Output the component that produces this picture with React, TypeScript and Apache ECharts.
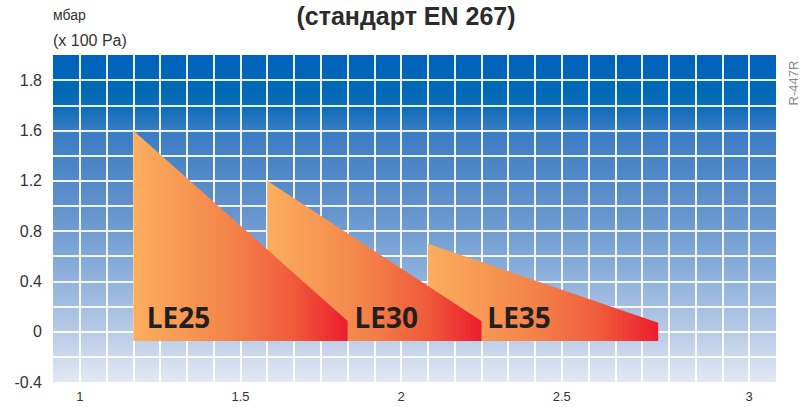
import React, { useEffect, useRef } from "react";
import * as echarts from "echarts";

// ---- data ----
// x axis is expressed in grid cells (one vertical grid line per cell)
const xTickCells = [0, 6, 12, 18, 25];
const xTickLabels = ["1", "1.5", "2", "2.5", "3"];
const yTickValues = [-0.4, 0, 0.4, 0.8, 1.2, 1.6, 2.0];
const yTickLabels = ["-0.4", "0", "0.4", "0.8", "1.2", "1.6", "1.8"];

const burnerNames = ["LE25", "LE30", "LE35"];
const startX = [2, 7, 13];
const endX = [10, 15, 21.6];
const peakP = [1.6, 1.2, 0.7];
const endP = [0.085, 0.085, 0.072];
const baseP = [-0.074, -0.074, -0.074];
const labelX = [2.5, 10.26, 15.22];
const labelY = [0.117, 0.117, 0.117];

export default function App() {
  const ref = useRef<HTMLDivElement>(null);
  useEffect(() => {
    if (!ref.current) return;
    const chart = echarts.init(ref.current, null, { renderer: "svg" });
    // draw order: last one on top
    const order = [2, 1, 0];
    const data = order.map((i) => ({
      name: burnerNames[i],
      value: [startX[i], endX[i], peakP[i], endP[i], baseP[i], labelX[i], labelY[i]],
    }));
    const fillGrad = () =>
      new echarts.graphic.LinearGradient(0, 0, 1, 0, [
        { offset: 0, color: "#fbae5e" },
        { offset: 0.45, color: "#f4844a" },
        { offset: 0.75, color: "#f05a3a" },
        { offset: 1, color: "#ec1c2e" },
      ]);
    const option: any = {
      animation: false,
      grid: {
        left: 53,
        right: 27,
        top: 55,
        bottom: 25,
        containLabel: false,
        outerBoundsMode: "none",
        show: true,
        borderWidth: 0,
        backgroundColor: new echarts.graphic.LinearGradient(0, 0, 0, 1, [
          { offset: 0, color: "#0062bc" },
          { offset: 0.1, color: "#0068b5" },
          { offset: 0.16, color: "#0e6db8" },
          { offset: 0.23, color: "#3a7cc4" },
          { offset: 0.44, color: "#5d8fcb" },
          { offset: 0.66, color: "#8aaedb" },
          { offset: 0.85, color: "#b8cbe7" },
          { offset: 1, color: "#e3e9f4" },
        ]),
      },
      xAxis: {
        type: "value",
        min: -1,
        max: 26,
        interval: 1,
        axisLine: { show: false },
        axisTick: { show: false },
        axisLabel: {
          margin: 8,
          fontSize: 13,
          color: "#333",
          fontFamily: "Liberation Sans, Arial, sans-serif",
          formatter: (v: number) => {
            const k = xTickCells.findIndex((c) => Math.abs(c - v) < 1e-6);
            return k >= 0 ? xTickLabels[k] : "";
          },
        },
        splitLine: {
          show: true,
          showMinLine: false,
          showMaxLine: false,
          lineStyle: { color: "#ffffff", width: 2, opacity: 0.9 },
        },
      },
      yAxis: {
        type: "value",
        min: -0.4,
        max: 2.2,
        interval: 0.2,
        axisLine: { show: false },
        axisTick: { show: false },
        axisLabel: {
          margin: 11,
          fontSize: 16,
          color: "#333",
          fontFamily: "Liberation Sans, Arial, sans-serif",
          formatter: (v: number) => {
            const k = yTickValues.findIndex((c) => Math.abs(c - v) < 1e-6);
            return k >= 0 ? yTickLabels[k] : "";
          },
        },
        splitLine: {
          show: true,
          showMinLine: false,
          showMaxLine: false,
          lineStyle: { color: "#ffffff", width: 2, opacity: 0.9 },
        },
      },
      series: [
        {
          type: "custom",
          data,
          clip: false,
          renderItem: (params: any, api: any) => {
            const x0 = api.value(0);
            const x1 = api.value(1);
            const top = api.value(2);
            const rt = api.value(3);
            const bot = api.value(4);
            const lx = api.value(5);
            const ly = api.value(6);
            const pts = [
              api.coord([x0, bot]),
              api.coord([x0, top]),
              api.coord([x1, rt]),
              api.coord([x1, bot]),
            ];
            const lp = api.coord([lx, ly]);
            return {
              type: "group",
              children: [
                {
                  type: "polygon",
                  shape: { points: pts },
                  style: { fill: fillGrad() },
                },
                {
                  type: "text",
                  x: lp[0],
                  y: lp[1],
                  style: {
                    text: data[params.dataIndex].name,
                    fill: "#231f20",
                    font: "bold 28px 'Open Sans', 'Noto Sans', sans-serif",
                    align: "left",
                    verticalAlign: "middle",
                  },
                },
              ],
            };
          },
        },
      ],
      graphic: [
        {
          type: "text",
          left: 53,
          top: 8,
          style: {
            text: "мбар",
            fill: "#333",
            font: "14px 'Liberation Sans', Arial, sans-serif",
          },
        },
        {
          type: "text",
          left: 53,
          top: 32,
          style: {
            text: "(x 100 Pa)",
            fill: "#333",
            font: "16px 'Liberation Sans', Arial, sans-serif",
          },
        },
        {
          type: "text",
          x: 406,
          y: 16,
          style: {
            text: "(стандарт EN 267)",
            fill: "#2b2b2b",
            font: "bold 25px 'Liberation Sans', Arial, sans-serif",
            align: "center",
            verticalAlign: "middle",
          },
        },
        {
          type: "text",
          x: 793,
          y: 83,
          rotation: Math.PI / 2,
          style: {
            text: "R-447R",
            fill: "#888",
            font: "13px 'Liberation Sans', Arial, sans-serif",
            align: "center",
            verticalAlign: "middle",
          },
        },
      ],
    };
    chart.setOption(option);
    return () => chart.dispose();
  }, []);
  return (
    <div
      ref={ref}
      style={{ position: "fixed", left: 0, top: 0, width: 803, height: 407, background: "#fff" }}
    />
  );
}
